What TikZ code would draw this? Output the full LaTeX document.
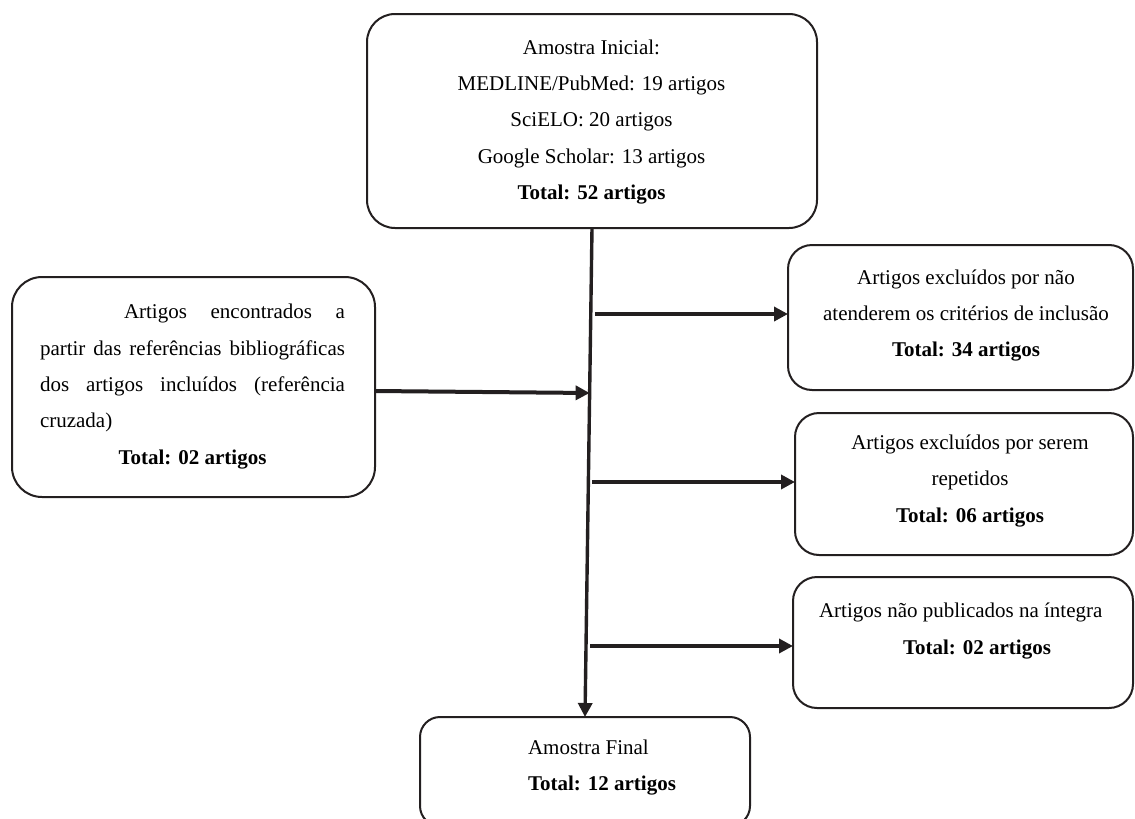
\documentclass[tikz,border=0pt]{standalone}
\usepackage{fontspec}
\setmainfont{Liberation Serif}
\usetikzlibrary{arrows.meta,calc}
\definecolor{ink}{HTML}{231F20}
\begin{document}
\begin{tikzpicture}[x=1pt,y=-1pt,
  box/.style={draw=ink, line width=2pt, rectangle, outer sep=0pt, inner sep=0pt},
  txt/.style={inner sep=0pt, outer sep=0pt, text=black, font=\fontsize{21}{36.3}\selectfont},
  arr/.style={draw=ink, line width=4pt, -{Triangle[length=14pt,width=14pt]}},
  trunk/.style={draw=ink, line width=3.4pt, -{Triangle[length=14pt,width=14pt]}}]
\useasboundingbox (0,0) rectangle (1135,819);

% boxes
\node[box, rounded corners=28pt, minimum width=450pt, minimum height=214pt] (top) at (592,121) {};
\node[box, rounded corners=30pt, minimum width=363pt, minimum height=220pt] (left) at (193.5,387) {};
\node[box, rounded corners=24pt, minimum width=345pt, minimum height=145pt] (r1) at (960.5,317.5) {};
\node[box, rounded corners=24pt, minimum width=338pt, minimum height=142pt] (r2) at (964,484) {};
\node[box, rounded corners=24pt, minimum width=340pt, minimum height=131pt] (r3) at (963,642.5) {};
\node[box, rounded corners=20pt, minimum width=330pt, minimum height=109pt] (final) at (585,771.5) {};

% texts
\node[txt, align=center] (topT) at (591.5,122) {Amostra Inicial:\\MEDLINE/PubMed: 19 artigos\\SciELO: 20 artigos\\Google Scholar: 13 artigos\\\textbf{Total: 52 artigos}};
\node[txt, align=left] (leftT) at (192.5,386.5) {\hspace*{84pt}\makebox[221pt][s]{Artigos encontrados a}\\\makebox[305pt][s]{partir das referências bibliográficas}\\\makebox[305pt][s]{dos artigos incluídos (referência}\\cruzada)\\\makebox[305pt]{\textbf{Total: 02 artigos}}};
\node[txt, align=center] (r1T) at (966,315.5) {Artigos excluídos por não\\atenderem os critérios de inclusão\\\textbf{Total: 34 artigos}};
\node[txt, align=center] (r2T) at (970,481) {Artigos excluídos por serem\\repetidos\\\textbf{Total: 06 artigos}};
\node[txt, align=left, anchor=west] (r3T) at (819,631) {Artigos não publicados na íntegra\\\hspace*{84pt}\textbf{Total: 02 artigos}};
\node[txt, align=left, anchor=west] (finT) at (528,767.5) {Amostra Final\\\textbf{Total: 12 artigos}};

% junction points on the trunk
\coordinate (jL) at ($(top.south)!0.3374!(final.north)$);
\coordinate (j1) at ($(top.south)!0.1759!(final.north)$);
\coordinate (j2) at ($(top.south)!0.5194!(final.north)$);
\coordinate (j3) at ($(top.south)!0.8548!(final.north)$);

% connectors
\draw[trunk] (top.south) -- (final.north);
\draw[arr] ([yshift=-4pt]left.east) -- (jL);
\draw[arr] ([xshift=4pt]j1) -- (j1 -| r1.west);
\draw[arr] ([xshift=4pt]j2) -- (j2 -| r2.west);
\draw[arr] ([xshift=4pt]j3) -- (j3 -| r3.west);
\end{tikzpicture}
\end{document}
